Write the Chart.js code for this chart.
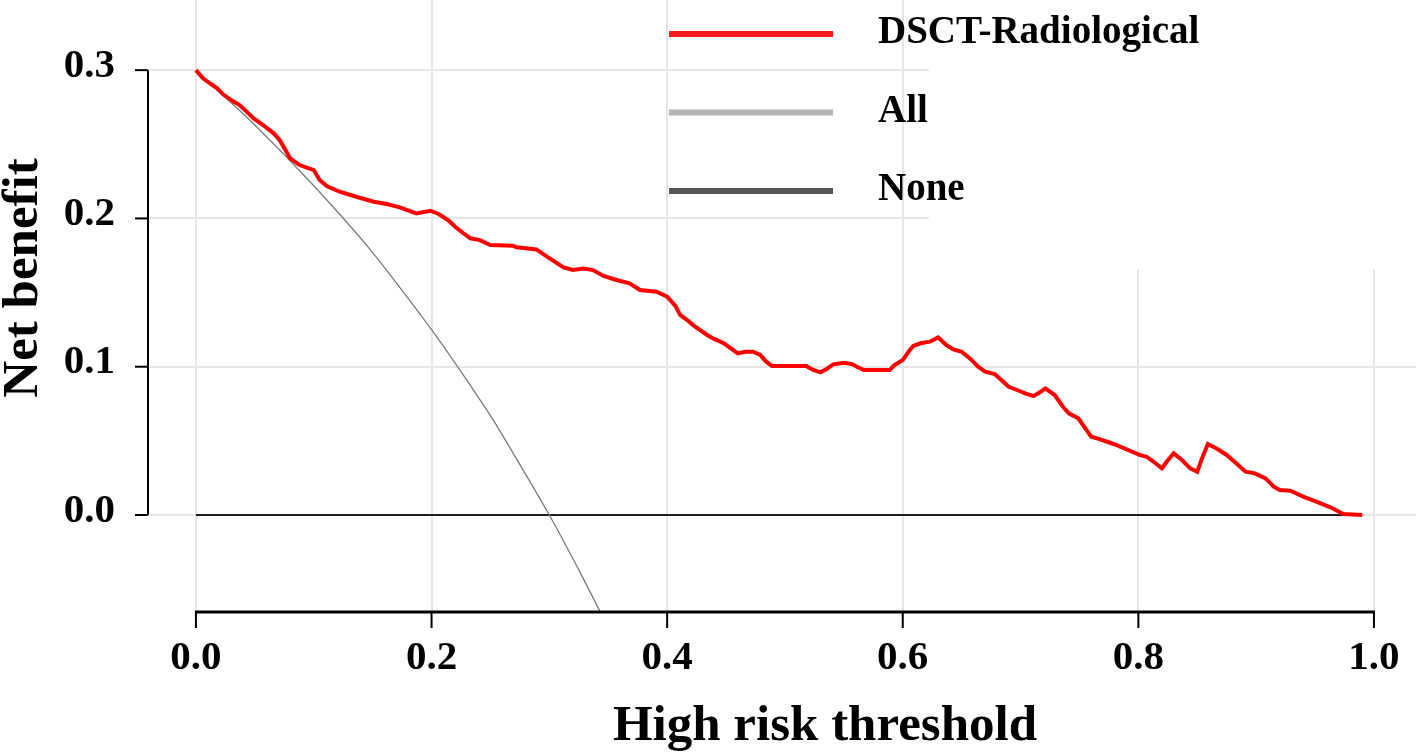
<!DOCTYPE html>
<html>
<head>
<meta charset="utf-8">
<title>Decision curve - DSCT-Radiological</title>
<script src="https://cdn.jsdelivr.net/npm/chart.js@4.4.1/dist/chart.umd.min.js"></script>
<style>
  html, body { margin: 0; padding: 0; background: #fff; }
  canvas { display: block; }
</style>
</head>
<body>
<canvas id="dcaChart" width="1416" height="753"></canvas>
<script>
// Decision curve values
const modelThresholds = [
  0.000, 0.006, 0.012, 0.018, 0.023, 0.029, 0.037, 0.043, 0.049, 0.057,
  0.066, 0.071, 0.076, 0.080, 0.088, 0.100, 0.105, 0.111, 0.122, 0.136,
  0.151, 0.162, 0.173, 0.187, 0.199, 0.206, 0.214, 0.220, 0.227, 0.233,
  0.241, 0.250, 0.269, 0.272, 0.289, 0.298, 0.306, 0.312, 0.320, 0.329,
  0.337, 0.346, 0.357, 0.368, 0.377, 0.391, 0.400, 0.407, 0.411, 0.417,
  0.422, 0.428, 0.434, 0.439, 0.448, 0.455, 0.460, 0.466, 0.473, 0.479,
  0.484, 0.489, 0.518, 0.524, 0.530, 0.535, 0.541, 0.550, 0.557, 0.561,
  0.567, 0.589, 0.593, 0.600, 0.606, 0.609, 0.615, 0.623, 0.630, 0.637,
  0.643, 0.650, 0.657, 0.664, 0.670, 0.678, 0.683, 0.690, 0.697, 0.704,
  0.711, 0.717, 0.721, 0.729, 0.736, 0.741, 0.749, 0.755, 0.760, 0.767,
  0.779, 0.790, 0.801, 0.807, 0.813, 0.820, 0.824, 0.830, 0.837, 0.844,
  0.850, 0.854, 0.859, 0.866, 0.875, 0.883, 0.891, 0.899, 0.908, 0.915,
  0.920, 0.929, 0.940, 0.951, 0.963, 0.974, 0.990
];
const modelNetBenefit = [
  0.3000, 0.2945, 0.2910, 0.2877, 0.2837, 0.2803, 0.2765, 0.2720, 0.2675, 0.2630,
  0.2574, 0.2529, 0.2461, 0.2405, 0.2360, 0.2326, 0.2259, 0.2218, 0.2180, 0.2146,
  0.2113, 0.2097, 0.2075, 0.2034, 0.2052, 0.2030, 0.1989, 0.1944, 0.1900, 0.1866,
  0.1854, 0.1821, 0.1816, 0.1805, 0.1791, 0.1742, 0.1701, 0.1670, 0.1652, 0.1663,
  0.1652, 0.1612, 0.1585, 0.1562, 0.1517, 0.1506, 0.1472, 0.1410, 0.1349, 0.1315,
  0.1281, 0.1247, 0.1214, 0.1191, 0.1158, 0.1119, 0.1090, 0.1101, 0.1101, 0.1079,
  0.1034, 0.1005, 0.1005, 0.0978, 0.0962, 0.0982, 0.1016, 0.1027, 0.1018, 0.1000,
  0.0978, 0.0978, 0.1011, 0.1045, 0.1113, 0.1140, 0.1158, 0.1169, 0.1198, 0.1146,
  0.1117, 0.1101, 0.1056, 0.1000, 0.0966, 0.0951, 0.0915, 0.0865, 0.0843, 0.0820,
  0.0802, 0.0831, 0.0854, 0.0809, 0.0730, 0.0686, 0.0652, 0.0584, 0.0528, 0.0512,
  0.0479, 0.0443, 0.0405, 0.0393, 0.0359, 0.0315, 0.0359, 0.0416, 0.0371, 0.0315,
  0.0292, 0.0382, 0.0479, 0.0450, 0.0405, 0.0349, 0.0292, 0.0281, 0.0247, 0.0191,
  0.0169, 0.0164, 0.0124, 0.0090, 0.0052, 0.0007, 0.0000
];
const allThresholds = [0.000, 0.050, 0.100, 0.150, 0.200, 0.250, 0.275, 0.300, 0.325, 0.343];
const allNetBenefit = [0.300, 0.263, 0.222, 0.177, 0.125, 0.067, 0.034, 0.000, -0.037, -0.065];
const noneThresholds = [0.000, 0.990];
const noneNetBenefit = [0.000, 0.000];

const seriesLabels = ['DSCT-Radiological', 'All', 'None'];
const xTicks = [0.0, 0.2, 0.4, 0.6, 0.8, 1.0];
const yTicks = [0.0, 0.1, 0.2, 0.3];
const xTitle = 'High risk threshold';
const yTitle = 'Net benefit';

const SERIF = "'Liberation Serif', 'Times New Roman', serif";
Chart.defaults.font.family = SERIF;
Chart.defaults.color = '#000';

// Helper: zip two arrays into {x, y} points
function toPoints(xs, ys) {
  return xs.map((x, i) => ({ x: x, y: ys[i] }));
}

// Axes, legend and titles are drawn R-style by hand
const dcaDecor = {
  id: 'dcaDecor',

  beforeDatasetsDraw(chart) {
    // white patch behind the legend text hides the grid there
    const { ctx, chartArea } = chart;
    ctx.save();
    ctx.fillStyle = '#ffffff';
    ctx.fillRect(929, chartArea.top, chartArea.right - 929, 270);
    ctx.restore();
  },

  afterDraw(chart) {
    const { ctx, chartArea } = chart;
    const xs = chart.scales.x;
    const ys = chart.scales.y;

    ctx.save();
    ctx.strokeStyle = '#000';
    ctx.fillStyle = '#000';

    // y axis: only spans the tick range
    const ax = chartArea.left;
    ctx.lineWidth = 2;
    ctx.beginPath();
    ctx.moveTo(ax, ys.getPixelForValue(yTicks[0]));
    ctx.lineTo(ax, ys.getPixelForValue(yTicks[yTicks.length - 1]));
    ctx.stroke();
    yTicks.forEach(v => {
      const py = ys.getPixelForValue(v);
      ctx.beginPath();
      ctx.moveTo(ax, py);
      ctx.lineTo(ax - 13, py);
      ctx.stroke();
    });

    // x axis at the bottom of the plot
    const by = chartArea.bottom;
    ctx.lineWidth = 3;
    ctx.beginPath();
    ctx.moveTo(xs.getPixelForValue(xTicks[0]) - 1, by);
    ctx.lineTo(xs.getPixelForValue(xTicks[xTicks.length - 1]) + 1, by);
    ctx.stroke();
    ctx.lineWidth = 2;
    xTicks.forEach(v => {
      const px = xs.getPixelForValue(v);
      ctx.beginPath();
      ctx.moveTo(px, by);
      ctx.lineTo(px, by + 16);
      ctx.stroke();
    });

    // legend
    const legendColors = ['#f21d1d', '#b4b4b4', '#555555'];
    const legendX = 669, lineLen = 164, textX = 878, legendTop = 34, rowGap = 78.5;
    ctx.font = `bold 39px ${SERIF}`;
    ctx.textAlign = 'left';
    ctx.textBaseline = 'alphabetic';
    chart.data.datasets.forEach((ds, i) => {
      const ly = legendTop + i * rowGap;
      ctx.fillStyle = legendColors[i];
      ctx.fillRect(legendX, ly - 3, lineLen, 6);
      ctx.fillStyle = '#000';
      ctx.fillText(ds.label, textX, ly + 9);
    });

    // axis titles
    ctx.font = `bold 51px ${SERIF}`;
    ctx.textAlign = 'center';
    ctx.fillText(xTitle, 825, 740);

    ctx.translate(37, 278);
    ctx.rotate(-Math.PI / 2);
    ctx.fillText(yTitle, 0, 0);
    ctx.restore();
  }
};

const ctx = document.getElementById('dcaChart').getContext('2d');

new Chart(ctx, {
  type: 'line',
  data: {
    datasets: [
      {
        label: seriesLabels[0],
        data: toPoints(modelThresholds, modelNetBenefit),
        borderColor: '#ff0000',
        borderWidth: 4,
        pointRadius: 0,
        tension: 0
      },
      {
        label: seriesLabels[1],
        data: toPoints(allThresholds, allNetBenefit),
        borderColor: '#7a7a7a',
        borderWidth: 1.3,
        pointRadius: 0,
        tension: 0.2
      },
      {
        label: seriesLabels[2],
        data: toPoints(noneThresholds, noneNetBenefit),
        borderColor: '#1f1f1f',
        borderWidth: 2,
        pointRadius: 0
      }
    ]
  },
  options: {
    responsive: false,
    animation: false,
    layout: { padding: 0 },
    plugins: {
      legend: { display: false },
      tooltip: { enabled: false }
    },
    scales: {
      x: {
        type: 'linear',
        min: -0.0407,
        max: 1.0357,
        afterBuildTicks: (s) => { s.ticks = xTicks.map(v => ({ value: v })); },
        afterFit: (s) => { s.height = 141; s.paddingLeft = 0; s.paddingRight = 0; },
        grid: { color: '#e6e6e6', lineWidth: 2, drawTicks: false },
        border: { display: false },
        ticks: {
          padding: 22,
          maxRotation: 0,
          autoSkip: false,
          color: '#000',
          font: { size: 41, weight: 'bold' },
          callback: (v) => v.toFixed(1)
        }
      },
      y: {
        type: 'linear',
        min: -0.0654,
        max: 0.3473,
        afterBuildTicks: (s) => { s.ticks = yTicks.map(v => ({ value: v })); },
        afterFit: (s) => { s.width = 148; s.paddingTop = 0; s.paddingBottom = 0; },
        grid: { color: '#e6e6e6', lineWidth: 2, drawTicks: false },
        border: { display: false },
        ticks: {
          padding: 33,
          labelOffset: -4,
          autoSkip: false,
          color: '#000',
          font: { size: 41, weight: 'bold' },
          callback: (v) => v.toFixed(1)
        }
      }
    }
  },
  plugins: [dcaDecor]
});
</script>
</body>
</html>
